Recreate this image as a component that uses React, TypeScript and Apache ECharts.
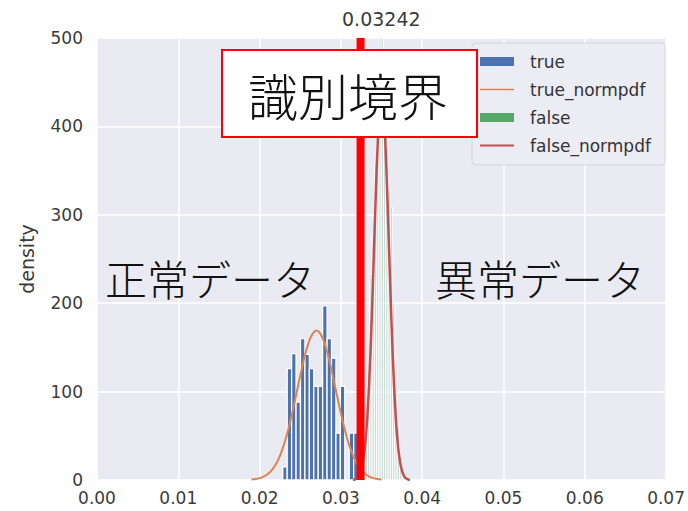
import React, { useEffect, useRef } from "react";
import * as echarts from "echarts";

// x ticks
const xTicks = [0, 0.01, 0.02, 0.03, 0.04, 0.05, 0.06, 0.07];
const yMax = 500;

// histogram of "true" (normal data)
const trueBinStart = 0.02285;
const trueBinWidth = 0.000545;
const trueHeights = [15, 126, 143, 88, 160, 142, 126, 106, 106, 197, 160, 138, 53, 106, 0, 53, 53];

// histogram of "false" (anomalous data)
const falseBinStart = 0.033;
const falseBinWidth = 0.00028;
const falseHeights = [55, 120, 233, 280, 360, 420, 540, 560, 450, 400, 330, 309, 200, 124, 60, 25];

// normal pdf curve (true)
const trueCurveX = [0.019, 0.0195, 0.02, 0.0205, 0.021, 0.0215, 0.022, 0.0225, 0.023, 0.0235, 0.024, 0.0245, 0.025, 0.0255, 0.026, 0.0265, 0.027, 0.0275, 0.028, 0.0285, 0.029, 0.0295, 0.03, 0.0305, 0.031, 0.0315, 0.032, 0.0325, 0.033, 0.0335, 0.034, 0.0345, 0.035];
const trueCurveY = [0.5, 1.1, 2.1, 3.8, 6.7, 11.2, 17.9, 27.4, 40.2, 56.2, 75.4, 96.5, 118, 138, 154.5, 165, 169, 165, 154.5, 138, 118, 96.5, 75.4, 56.2, 40.2, 27.4, 17.9, 11.2, 6.7, 3.8, 2.1, 1.1, 0.5];

// normal pdf curve (false)
const falseCurveX = [0.0315, 0.032, 0.03225, 0.0325, 0.03275, 0.033, 0.03325, 0.0335, 0.03375, 0.034, 0.03425, 0.0345, 0.03475, 0.035, 0.03525, 0.0355, 0.03575, 0.036, 0.03625, 0.0365, 0.03675, 0.037, 0.03725, 0.0375, 0.03775, 0.038, 0.0385];
const falseCurveY = [0.1, 2, 5, 11, 22, 41, 71, 115, 172, 240, 311, 374, 417, 433, 417, 374, 311, 240, 172, 115, 71, 41, 22, 11, 5, 2, 0.1];

const threshold = 0.03242;

const seriesNames = ["true", "true_normpdf", "false", "false_normpdf"];

export default function App() {
  const ref = useRef<HTMLDivElement>(null);
  useEffect(() => {
    if (!ref.current) return;
    const chart = echarts.init(ref.current, null, { renderer: "svg" });
    const trueData = trueHeights.map((h, i) => [
      trueBinStart + i * trueBinWidth,
      trueBinStart + (i + 1) * trueBinWidth,
      h,
    ]);
    const falseData = falseHeights.map((h, i) => [
      falseBinStart + i * falseBinWidth,
      falseBinStart + (i + 1) * falseBinWidth,
      h,
    ]);
    const makeRender = (fill: string, lw: number) => (params: any, api: any) => {
      const x0 = api.value(0);
      const x1 = api.value(1);
      const h = api.value(2);
      const p0 = api.coord([x0, h]);
      const p1 = api.coord([x1, 0]);
      return {
        type: "rect",
        shape: { x: p0[0], y: p0[1], width: p1[0] - p0[0], height: p1[1] - p0[1] },
        style: { fill, stroke: "#ffffff", lineWidth: lw },
      };
    };
    const font = "DejaVu Sans";
    const cjk = "Noto Sans CJK JP";
    chart.setOption({
      animation: false,
      textStyle: { fontFamily: font },
      grid: {
        left: 97,
        right: 21,
        top: 38,
        bottom: 31,
        show: true,
        backgroundColor: "#EAEAF2",
        borderWidth: 0,
      },
      xAxis: {
        type: "value",
        min: xTicks[0],
        max: xTicks[xTicks.length - 1],
        interval: 0.01,
        axisLine: { show: false },
        axisTick: { show: false },
        splitLine: { show: true, lineStyle: { color: "#ffffff", width: 1.5 } },
        axisLabel: {
          formatter: (v: number) => v.toFixed(2),
          fontSize: 17,
          color: "#3a3a3a",
          margin: 9,
          fontFamily: font,
        },
      },
      yAxis: {
        type: "value",
        min: 0,
        max: yMax,
        interval: 100,
        name: "density",
        nameLocation: "middle",
        nameGap: 61,
        nameTextStyle: { fontSize: 19, color: "#3a3a3a", fontFamily: font },
        axisLine: { show: false },
        axisTick: { show: false },
        splitLine: { show: true, lineStyle: { color: "#ffffff", width: 1.5 } },
        axisLabel: { fontSize: 17, color: "#3a3a3a", margin: 14, fontFamily: font },
      },
      legend: {
        orient: "vertical",
        left: 472,
        top: 43,
        padding: [10, 14, 11, 8],
        itemWidth: 34,
        itemHeight: 9,
        itemGap: 11,
        backgroundColor: "rgba(236,236,243,0.95)",
        borderColor: "#d4d4dc",
        borderWidth: 1,
        borderRadius: 4,
        textStyle: { fontSize: 17, color: "#333333", fontFamily: font, padding: [0, 0, 0, 11] },
        data: [
          { name: seriesNames[0], icon: "rect" },
          { name: seriesNames[1], icon: "path://M0 0 H40 V2 H0 Z" },
          { name: seriesNames[2], icon: "rect" },
          { name: seriesNames[3], icon: "path://M0 0 H40 V2.4 H0 Z" },
        ],
        z: 6,
      },
      series: [
        {
          name: seriesNames[0],
          type: "custom",
          data: trueData,
          encode: { x: [0, 1], y: 2 },
          itemStyle: { color: "#4c72b0" },
          renderItem: makeRender("#4c72b0", 1.3),
          clip: true,
          z: 2,
        },
        {
          name: seriesNames[1],
          type: "line",
          data: trueCurveX.map((x, i) => [x, trueCurveY[i]]),
          smooth: true,
          showSymbol: false,
          symbol: "none",
          itemStyle: { color: "#dd8452" },
          lineStyle: { color: "#dd8452", width: 2 },
          z: 3,
        },
        {
          name: seriesNames[2],
          type: "custom",
          data: falseData,
          encode: { x: [0, 1], y: 2 },
          itemStyle: { color: "#55a868" },
          renderItem: makeRender("rgba(85,168,104,0.22)", 0.9),
          clip: true,
          z: 2,
        },
        {
          name: seriesNames[3],
          type: "line",
          data: falseCurveX.map((x, i) => [x, falseCurveY[i]]),
          smooth: true,
          showSymbol: false,
          symbol: "none",
          itemStyle: { color: "#c44e52" },
          lineStyle: { color: "#c44e52", width: 2.5 },
          z: 3,
        },
        {
          name: "boundary",
          type: "line",
          data: [
            [threshold, 0],
            [threshold, yMax],
          ],
          showSymbol: false,
          symbol: "none",
          lineStyle: { color: "#ff0000", width: 8 },
          z: 5,
        },
      ],
      graphic: [
        {
          type: "text",
          left: 342,
          top: 9,
          z: 100,
          style: { text: "0.03242", fontSize: 19, fill: "#3a3a3a", fontFamily: font },
        },
        {
          type: "rect",
          z: 100,
          shape: { x: 222, y: 50, width: 255, height: 87 },
          style: { fill: "#ffffff", stroke: "#ff0000", lineWidth: 2 },
        },
        {
          type: "text",
          z: 101,
          x: 348,
          y: 94,
          style: {
            text: "識別境界",
            fontSize: 50,
            fontWeight: 300,
            fill: "#111111",
            fontFamily: cjk,
            align: "center",
            verticalAlign: "middle",
          },
        },
        {
          type: "text",
          z: 101,
          x: 210,
          y: 277,
          style: {
            text: "正常データ",
            fontSize: 42,
            fontWeight: 300,
            fill: "#111111",
            fontFamily: cjk,
            align: "center",
            verticalAlign: "middle",
          },
        },
        {
          type: "text",
          z: 101,
          x: 540,
          y: 277,
          style: {
            text: "異常データ",
            fontSize: 42,
            fontWeight: 300,
            fill: "#111111",
            fontFamily: cjk,
            align: "center",
            verticalAlign: "middle",
          },
        },
      ],
    });
    return () => chart.dispose();
  }, []);
  return (
    <div
      ref={ref}
      style={{ position: "fixed", left: 0, top: 0, width: 688, height: 511, background: "#ffffff" }}
    />
  );
}
